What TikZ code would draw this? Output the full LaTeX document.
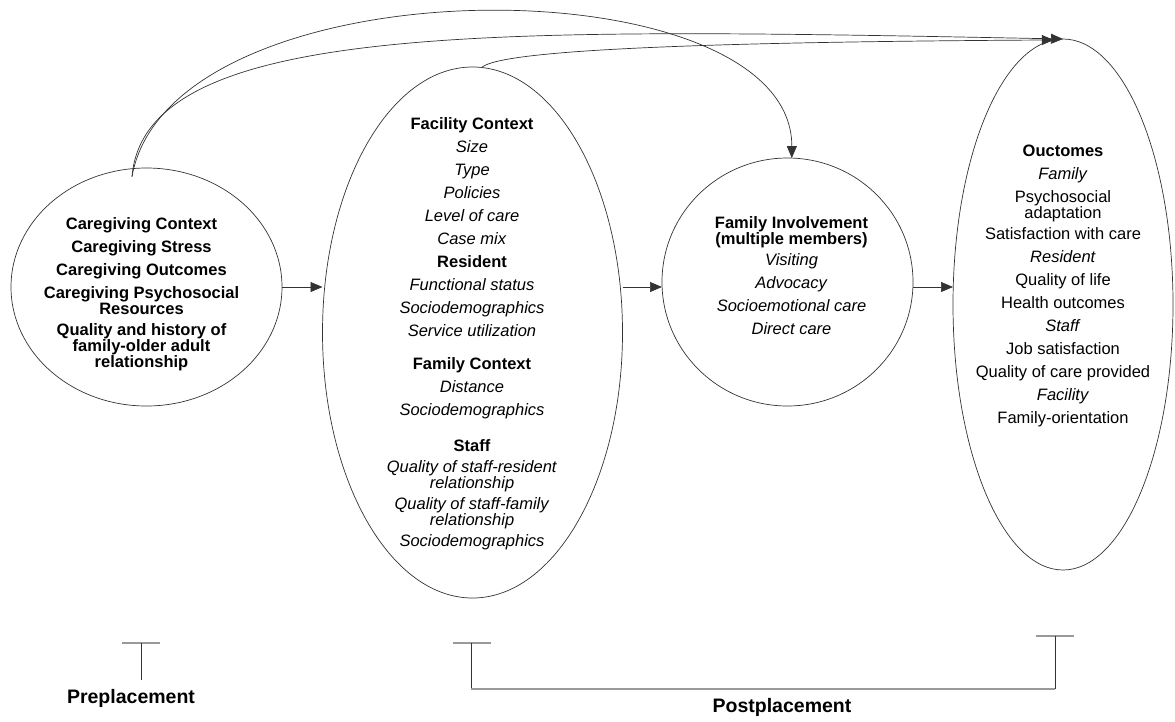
\documentclass[tikz,border=0pt]{standalone}
\usepackage{fontspec}
\setmainfont{Liberation Sans}
\usetikzlibrary{arrows.meta,shapes.geometric,calc}

\begin{document}
\begin{tikzpicture}[
  x=1pt, y=-1pt,
  font=\fontsize{16.5}{23}\selectfont,
  oval/.style={draw=black!80, ellipse, inner sep=0pt, outer sep=0pt, line width=0.7pt},
  txt/.style={anchor=north, align=center, inner sep=0pt},
  arr/.style={-{Triangle[length=12pt, width=10pt]}, draw=black!80, line width=0.7pt},
  bar/.style={draw=black!40, line width=1.8pt},
  tick/.style={draw=black!80, line width=0.7pt},
  lbl/.style={font=\fontsize{19.5}{22}\selectfont\bfseries}
]
\useasboundingbox (0,0) rectangle (1175,721);

% --- the four stages ---
\node[oval, minimum width=271pt, minimum height=238pt] (pre) at (146.5,287) {};
\node[oval, minimum width=300pt, minimum height=531pt] (ctx) at (472.5,332.5) {};
\node[oval, minimum width=251pt, minimum height=248pt] (inv) at (787.5,282) {};
\node[oval, minimum width=220pt, minimum height=531pt] (res) at (1063,304.5) {};

% --- contents ---
\node[txt, font=\fontsize{16.5}{23}\selectfont\bfseries] (preTxt) at (141.5,217.5) {%
  Caregiving Context\\
  Caregiving Stress\\
  Caregiving Outcomes\\
  Caregiving Psychosocial\\[-7pt]
  Resources\\[-2pt]
  Quality and history of\\[-7pt]
  family-older adult\\[-7pt]
  relationship};

\node[txt] (ctxTxt) at (472,117) {%
  \textbf{Facility Context}\\
  \textit{Size}\\
  \textit{Type}\\
  \textit{Policies}\\
  \textit{Level of care}\\
  \textit{Case mix}\\
  \textbf{Resident}\\
  \textit{Functional status}\\
  \textit{Sociodemographics}\\
  \textit{Service utilization}\\[10pt]
  \textbf{Family Context}\\
  \textit{Distance}\\
  \textit{Sociodemographics}\\[13pt]
  \textbf{Staff}\\[-2pt]
  \textit{Quality of staff-resident}\\[-7pt]
  \textit{relationship}\\[-2pt]
  \textit{Quality of staff-family}\\[-7pt]
  \textit{relationship}\\[-2pt]
  \textit{Sociodemographics}};

\node[txt] (invTxt) at (791.5,216) {%
  \textbf{Family Involvement}\\[-7pt]
  \textbf{(multiple members)}\\[-2pt]
  \textit{Visiting}\\
  \textit{Advocacy}\\
  \textit{Socioemotional care}\\
  \textit{Direct care}};

\node[txt] (resTxt) at (1063,145) {%
  \textbf{Ouctomes}\\
  \textit{Family}\\
  Psychosocial\\[-7pt]
  adaptation\\[-2pt]
  Satisfaction with care\\
  \textit{Resident}\\
  Quality of life\\
  Health outcomes\\
  \textit{Staff}\\
  Job satisfaction\\
  Quality of care provided\\
  \textit{Facility}\\
  Family-orientation};

% --- links between stages ---
\draw[arr] (pre.east) -- (pre.east -| ctx.west);
\draw[arr] (ctx.east |- pre.east) -- (inv.west |- pre.east);
\draw[arr] (inv.east |- pre.east) -- (res.west |- pre.east);

\coordinate (preTop) at ([yshift=-8pt]pre.97);
\draw[arr] (preTop) .. controls (170,-40) and (792,-40) .. (inv.88);
\draw[arr] (preTop) .. controls (145,20) and (500,28) .. (res.north);
\draw[arr] (ctx.88) .. controls (500,50) and (700,42) .. (res.92);

% --- time brackets ---
\draw[bar] (122,643) -- (160,643);
\draw[tick] (141,643) -- (141,680);
\node[lbl] (preLbl) at (131,698) {Preplacement};

\draw[bar] (453,643) -- (491,643);
\draw[bar] (1036,636) -- (1074,636);
\draw[tick] (471,643) -- (471,689);
\draw[bar] (471,689) -- (1055,689);
\draw[tick] (1055,689) -- (1055,636);
\node[lbl] (postLbl) at (782,707) {Postplacement};
\end{tikzpicture}
\end{document}
